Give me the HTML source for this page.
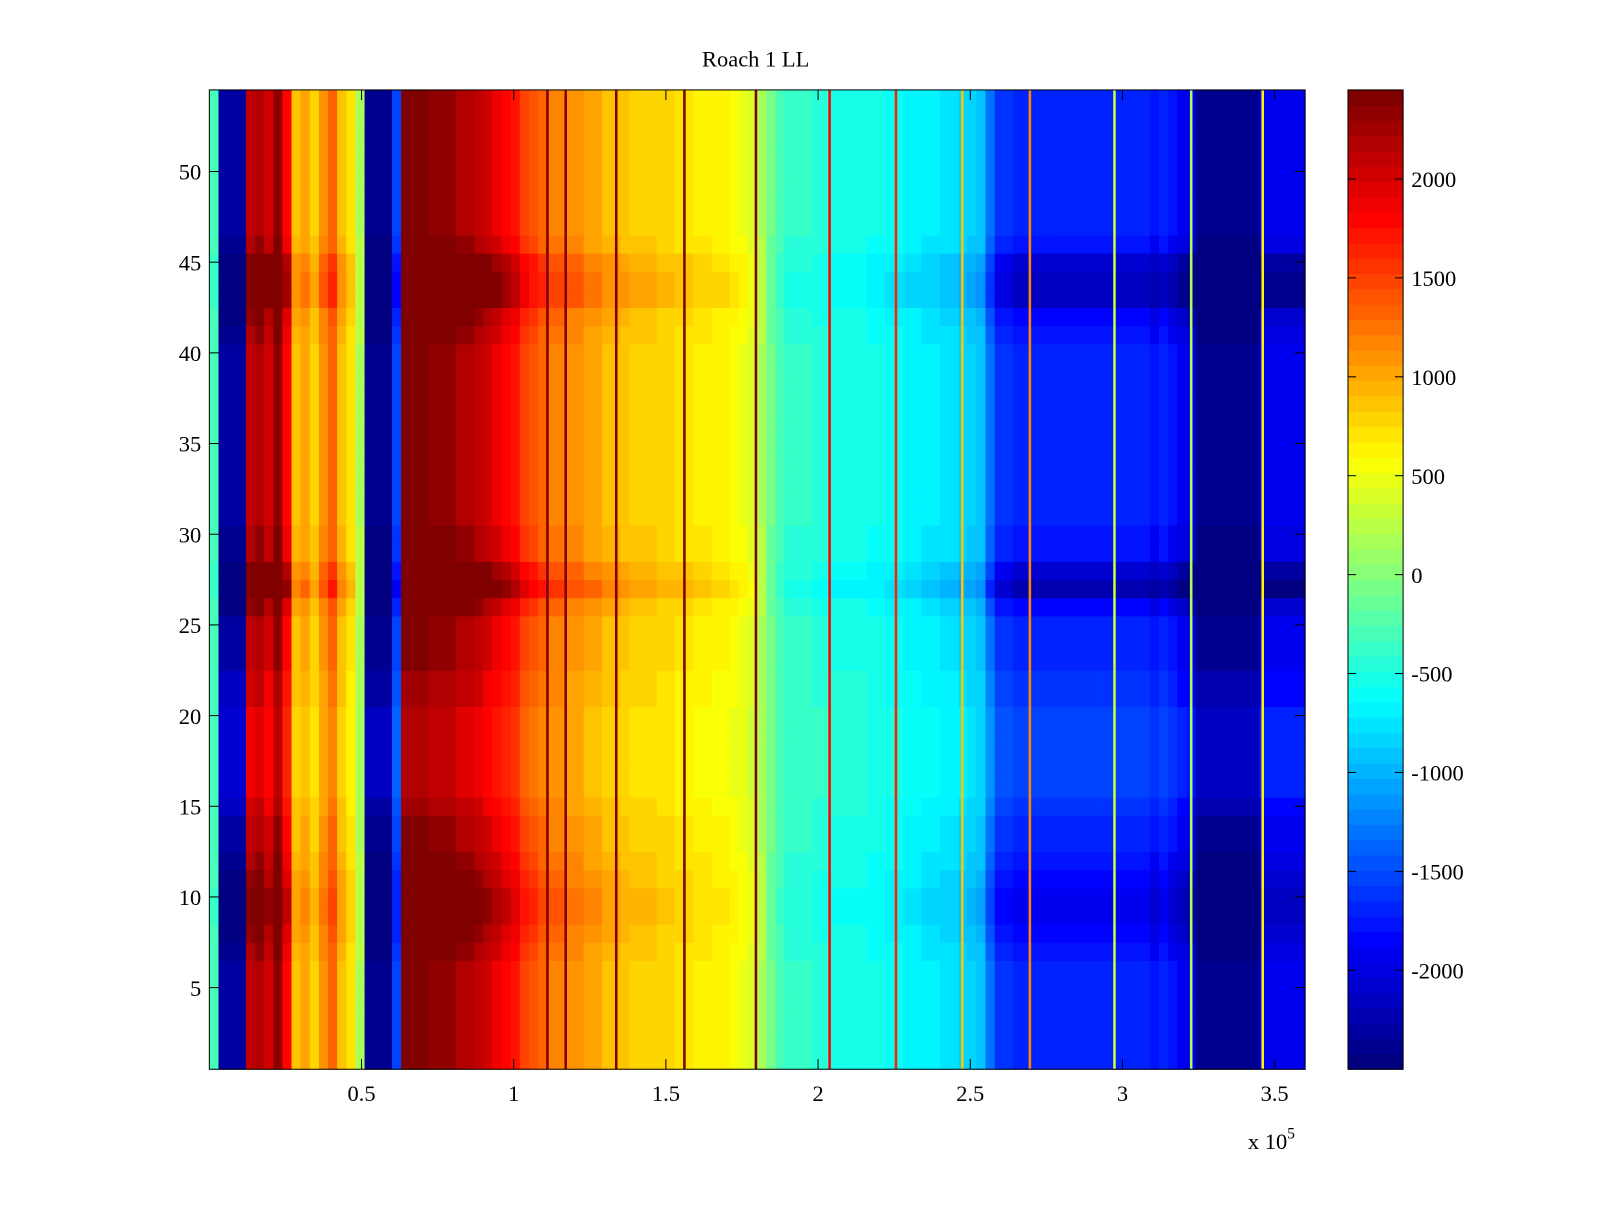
<!DOCTYPE html>
<html><head><meta charset="utf-8"><style>
body{margin:0;background:#fff}
svg text{font-family:"Liberation Serif",serif;font-size:22px;fill:#000}
</style></head><body>
<svg id="chart" width="1600" height="1200" viewBox="0 0 1566.8 1175" xmlns="http://www.w3.org/2000/svg">
<rect width="1566.8" height="1175" fill="#fff"/>
<text x="740" y="65" text-anchor="middle">Roach 1 LL</text>
<g id="cells"></g>
<g id="stripes"></g>
<rect x="205" y="88" width="1073" height="959" fill="none" stroke="#000" stroke-width="1"/>
<g id="axes"></g>
<g id="cbar"></g>
<text x="1222" y="1125">x 10<tspan dy="-10" font-size="15">5</tspan></text>
</svg>
<script>
// ---- data ----
const colStep = 3000; // x units per column
const colValues = [-300,-2300,-2300,-2300,2100,2200,2000,2300,1800,
900,1000,800,1100,1300,900,700,200,-2400,-2400,-2400,-1500,
2400,2400,2400,2300,2300,2300,2200,2200,2100,
2000,1900,1800,1700,1500,1400,1300,1200,1200,1100,
1100,1000,1000,900,900,850,800,800,800,750,
750,700,700,650,650,600,600,550,500,400,
200,-100,-300,-400,-400,-400,-450,-450,-500,-500,
-500,-500,-550,-550,-600,-600,-650,-650,-700,-700,
-750,-750,-800,-850,-900,-1300,-1600,-1600,-1700,-1700,
-1700,-1700,-1700,-1700,-1700,-1700,-1700,-1700,-1700,-1700,
-1700,-1700,-1700,-1800,-1700,-1800,-1900,-2000,-2350,-2350,
-2350,-2350,-2350,-2350,-2350,-1900,-1900,-1900,-1900,-1900];
// gain per row (row 1 bottom .. row 54 top)
const rowGain = [1,1,1,1,1,1,1.05,1.1,1.15,1.15,1.1,1.05,1,1,0.95,0.9,0.9,0.9,0.9,0.9,0.95,0.95,
1,1,1,1.1,1.3,1.2,1.05,1.05,1,1,1,1,1,1,1,1,1,1,1.05,1.1,1.25,1.25,1.2,1.05,1,1,1,1,1,1,1,1];
const stripeX = [111000,117000,133600,156000,179500,203700,225500,247300,269500,297300,322500,346000];
const stripeV = [2400,2400,2400,2400,2400,1800,1600,900,1200,300,200,600];
const xTicks = [0.5,1,1.5,2,2.5,3,3.5];
const yTicks = [5,10,15,20,25,30,35,40,45,50];
const cTicks = [-2000,-1500,-1000,-500,0,500,1000,1500,2000];
// ---- scales ----
const X0=205,X1=1278,Y0=88,Y1=1047, XMAX=360000, YMIN=0.5, YMAX=54.5, CMIN=-2500, CMAX=2450;
const sx=v=>X0+(v/XMAX)*(X1-X0);
const sy=v=>Y1-(v-YMIN)/(YMAX-YMIN)*(Y1-Y0);
const CB0=1320,CB1=1374;
const sc=v=>Y1-(v-CMIN)/(CMAX-CMIN)*(Y1-Y0);
function jet(t){t=Math.max(0,Math.min(1,t));t=Math.floor(t*63.999)/63;
 const f=c=>Math.round(255*Math.max(0,Math.min(1,1.5-Math.abs(4*t-c))));
 return `rgb(${f(3)},${f(2)},${f(1)})`;}
const col=v=>jet((v-CMIN)/(CMAX-CMIN));
const NS='http://www.w3.org/2000/svg';
function mk(tag,attrs,parent){const e=document.createElementNS(NS,tag);for(const k in attrs)e.setAttribute(k,attrs[k]);parent.appendChild(e);return e;}
const cells=document.getElementById('cells');
for(let r=0;r<rowGain.length;r++){
 for(let c=0;c<colValues.length;c++){
  const v=colValues[c]*rowGain[r];
  const xa=sx(c*colStep),xb=sx(Math.min((c+1)*colStep,XMAX));
  const ya=sy(r+1.5),yb=sy(r+0.5);
  const e=mk('rect',{x:xa,y:ya,width:xb-xa+0.5,height:yb-ya+0.5,fill:col(v)},cells);
  
  
 }
}
const st=document.getElementById('stripes');
stripeX.forEach((x,i)=>{
 const e=mk('rect',{x:sx(x)-1,y:Y0,width:2.5,height:Y1-Y0,fill:col(stripeV[i])},st);
 
 
});
const ax=document.getElementById('axes');
xTicks.forEach(t=>{const x=sx(t*1e5);
 mk('line',{x1:x,x2:x,y1:Y1,y2:Y1-10,stroke:'#000'},ax);
 mk('line',{x1:x,x2:x,y1:Y0,y2:Y0+10,stroke:'#000'},ax);
 const tx=mk('text',{x:x,y:1078,'text-anchor':'middle'},ax);tx.textContent=t;
 
 
});
yTicks.forEach(t=>{const y=sy(t);
 mk('line',{x1:X0,x2:X0+10,y1:y,y2:y,stroke:'#000'},ax);
 mk('line',{x1:X1,x2:X1-10,y1:y,y2:y,stroke:'#000'},ax);
 const tx=mk('text',{x:197,y:y+8,'text-anchor':'end'},ax);tx.textContent=t;
 
 
});
const cb=document.getElementById('cbar');
for(let i=0;i<64;i++){
 const v0=CMIN+(CMAX-CMIN)*i/64,v1=CMIN+(CMAX-CMIN)*(i+1)/64;
 const e=mk('rect',{x:CB0,y:sc(v1),width:CB1-CB0,height:sc(v0)-sc(v1)+0.5,fill:col((v0+v1)/2)},cb);
 
 
}
mk('rect',{x:CB0,y:Y0,width:CB1-CB0,height:Y1-Y0,fill:'none',stroke:'#000'},cb);
cTicks.forEach(t=>{const y=sc(t);
 mk('line',{x1:CB0,x2:CB0+8,y1:y,y2:y,stroke:'#000'},cb);
 mk('line',{x1:CB1,x2:CB1-8,y1:y,y2:y,stroke:'#000'},cb);
 const tx=mk('text',{x:1382,y:y+8},cb);tx.textContent=t;
 
 
});
</script>
</body></html>
